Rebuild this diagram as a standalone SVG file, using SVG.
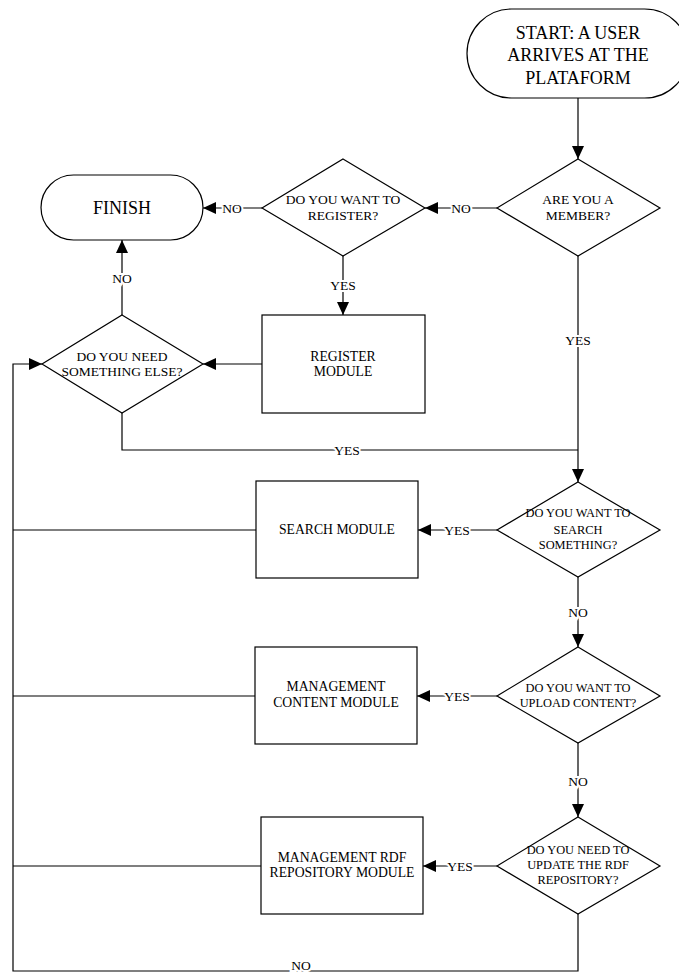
<svg xmlns="http://www.w3.org/2000/svg" width="679" height="974" viewBox="0 0 679 974">
<style>
.shape{fill:#fff;stroke:#000;stroke-width:1.2}
.ln{fill:none;stroke:#000;stroke-width:1.2}
.t{font-family:"Liberation Serif","Times New Roman",serif;fill:#000;text-anchor:middle}
.big{font-size:18px}
.dia{font-size:13.5px}
.dia2{font-size:12.4px}
.mod{font-size:13.7px}
.lbl{font-family:"Liberation Serif","Times New Roman",serif;font-size:13.5px;fill:#000;text-anchor:middle;dominant-baseline:central;stroke:#fff;stroke-width:4;paint-order:stroke}
</style>
<defs>
<marker id="ah" viewBox="0 0 13 12" refX="13" refY="6" markerWidth="13" markerHeight="12" markerUnits="userSpaceOnUse" orient="auto">
<path d="M0,0 L13,6 L0,12 z" fill="#000"/>
</marker>
</defs>
<rect width="679" height="974" fill="#fff"/>
<g id="connectors">
<path class="ln" d="M578,98 L578,159" marker-end="url(#ah)"/>
<path class="ln" d="M497,208 L425,208" marker-end="url(#ah)"/>
<text class="lbl" x="461" y="208">NO</text>
<path class="ln" d="M262,208 L203,208" marker-end="url(#ah)"/>
<text class="lbl" x="232" y="208">NO</text>
<path class="ln" d="M343,256 L343,315" marker-end="url(#ah)"/>
<text class="lbl" x="343" y="285">YES</text>
<path class="ln" d="M262,364 L203,364" marker-end="url(#ah)"/>
<path class="ln" d="M122,315 L122,240" marker-end="url(#ah)"/>
<text class="lbl" x="122" y="278">NO</text>
<path class="ln" d="M122,413 L122,450 L578,450"/>
<text class="lbl" x="347" y="450">YES</text>
<path class="ln" d="M578,256 L578,482" marker-end="url(#ah)"/>
<text class="lbl" x="578" y="340">YES</text>
<path class="ln" d="M497,530 L418,530" marker-end="url(#ah)"/>
<text class="lbl" x="457" y="530">YES</text>
<path class="ln" d="M256,530 L13,530"/>
<path class="ln" d="M578,577 L578,647" marker-end="url(#ah)"/>
<text class="lbl" x="578" y="612">NO</text>
<path class="ln" d="M497,696 L417,696" marker-end="url(#ah)"/>
<text class="lbl" x="457" y="696">YES</text>
<path class="ln" d="M255,696 L13,696"/>
<path class="ln" d="M578,743 L578,817" marker-end="url(#ah)"/>
<text class="lbl" x="578" y="781">NO</text>
<path class="ln" d="M497,866 L423,866" marker-end="url(#ah)"/>
<text class="lbl" x="460" y="866">YES</text>
<path class="ln" d="M261,866 L13,866"/>
<path class="ln" d="M578,914 L578,971 L13,971 L13,364 L42,364" marker-end="url(#ah)"/>
<text class="lbl" x="301" y="965">NO</text>
</g>
<g id="start">
<rect class="shape" x="467" y="9" width="222" height="89" rx="44.5"/>
<text class="t big" x="578" y="39">START: A USER</text>
<text class="t big" x="578" y="61">ARRIVES AT THE</text>
<text class="t big" x="578" y="84">PLATAFORM</text>
</g>
<g id="member">
<polygon class="shape" points="578,159 660,208 578,256 497,208"/>
<text class="t dia" x="578" y="204">ARE YOU A</text>
<text class="t dia" x="578" y="220">MEMBER?</text>
</g>
<g id="register-q">
<polygon class="shape" points="343,159 425,208 343,256 262,208"/>
<text class="t dia" x="343" y="204">DO YOU WANT TO</text>
<text class="t dia" x="343" y="220">REGISTER?</text>
</g>
<g id="finish">
<rect class="shape" x="41" y="175" width="162" height="65" rx="32.5"/>
<text class="t big" x="122" y="214">FINISH</text>
</g>
<g id="register-module">
<rect class="shape" x="262" y="315" width="163" height="98"/>
<text class="t mod" x="343" y="361">REGISTER</text>
<text class="t mod" x="343" y="376">MODULE</text>
</g>
<g id="need-else">
<polygon class="shape" points="122,315 203,364 122,413 42,364"/>
<text class="t dia" x="122" y="361">DO YOU NEED</text>
<text class="t dia" x="122" y="376">SOMETHING ELSE?</text>
</g>
<g id="search-q">
<polygon class="shape" points="578,482 660,530 578,577 497,530"/>
<text class="t dia2" x="578" y="517">DO YOU WANT TO</text>
<text class="t dia2" x="578" y="534">SEARCH</text>
<text class="t dia2" x="578" y="549">SOMETHING?</text>
</g>
<g id="search-module">
<rect class="shape" x="256" y="481" width="162" height="97"/>
<text class="t mod" x="337" y="534">SEARCH MODULE</text>
</g>
<g id="upload-q">
<polygon class="shape" points="578,647 660,696 578,743 497,696"/>
<text class="t dia2" x="578" y="692">DO YOU WANT TO</text>
<text class="t dia2" x="578" y="707">UPLOAD CONTENT?</text>
</g>
<g id="content-module">
<rect class="shape" x="255" y="647" width="162" height="97"/>
<text class="t mod" x="336" y="691">MANAGEMENT</text>
<text class="t mod" x="336" y="707">CONTENT MODULE</text>
</g>
<g id="rdf-q">
<polygon class="shape" points="578,817 660,866 578,914 497,866"/>
<text class="t dia2" x="578" y="854">DO YOU NEED TO</text>
<text class="t dia2" x="578" y="869">UPDATE THE RDF</text>
<text class="t dia2" x="578" y="884">REPOSITORY?</text>
</g>
<g id="rdf-module">
<rect class="shape" x="261" y="817" width="162" height="97"/>
<text class="t mod" x="342" y="862">MANAGEMENT RDF</text>
<text class="t mod" x="342" y="877">REPOSITORY MODULE</text>
</g>
</svg>
